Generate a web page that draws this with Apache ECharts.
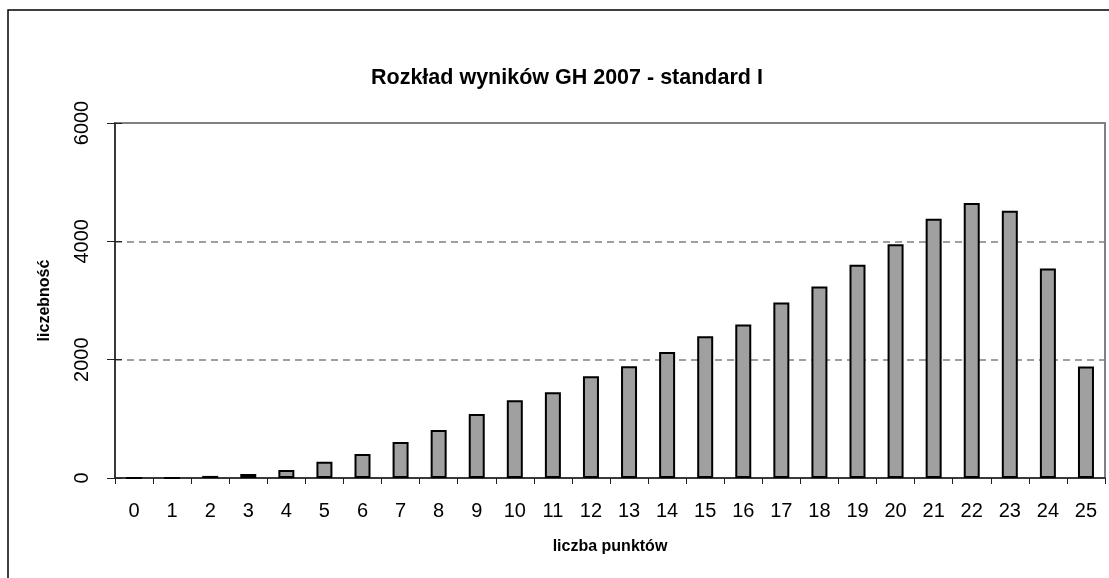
<!DOCTYPE html>
<html>
<head>
<meta charset="utf-8">
<script src="https://cdn.jsdelivr.net/npm/echarts@6/dist/echarts.min.js"></script>
<style>
  html, body { margin: 0; padding: 0; background: #fff; }
  #chart { width: 1109px; height: 578px; }
</style>
</head>
<body>
<div id="chart"></div>
<script>
// liczba punktów 0..25
const punkty = ['0','1','2','3','4','5','6','7','8','9','10','11','12','13','14','15','16','17','18','19','20','21','22','23','24','25'];
// liczebność
const liczebnosc = [0, 2, 35, 68, 135, 275, 405, 608, 810, 1080, 1315, 1450, 1720, 1890, 2130, 2395, 2595, 2965, 3235, 3605, 3950, 4380, 4650, 4515, 3540, 1885];
const yTicks = [0, 2000, 4000, 6000];

const font = "'Liberation Sans', Arial, sans-serif";
const chart = echarts.init(document.getElementById('chart'));

const option = {
  animation: false,
  backgroundColor: '#fff',
  title: {
    text: 'Rozkład wyników GH 2007 - standard I',
    left: 366,
    top: 62,
    textStyle: { fontFamily: font, fontSize: 21.5, fontWeight: 'bold', color: '#000' }
  },
  // ramka wykresu
  graphic: [{
    type: 'rect',
    shape: { x: 8, y: 10, width: 1200, height: 700 },
    style: { fill: 'none', stroke: '#000', lineWidth: 1.5 },
    silent: true
  }],
  grid: {
    left: 115, right: 4, top: 123, bottom: 100,
    show: true, borderColor: '#808080', borderWidth: 2, backgroundColor: 'transparent'
  },
  xAxis: {
    type: 'category',
    data: punkty,
    name: 'liczba punktów',
    nameLocation: 'middle',
    nameGap: 61,
    nameTextStyle: { fontFamily: font, fontSize: 16, fontWeight: 'bold', color: '#000' },
    axisLine: { lineStyle: { color: '#222', width: 1.5 } },
    axisTick: { show: true, length: 6, lineStyle: { color: '#222', width: 1 } },
    axisLabel: { fontFamily: font, fontSize: 20, color: '#000', margin: 23, interval: 0 }
  },
  yAxis: [{
    type: 'value',
    min: yTicks[0], max: yTicks[yTicks.length - 1], interval: 2000,
    name: 'liczebność',
    nameLocation: 'middle',
    nameGap: 62,
    nameTextStyle: { fontFamily: font, fontSize: 16, fontWeight: 'bold', color: '#000' },
    axisLine: { show: true, lineStyle: { color: '#222', width: 1.5 } },
    axisTick: { show: true, length: 8, lineStyle: { color: '#222', width: 1 } },
    axisLabel: { fontFamily: font, fontSize: 20, color: '#000', rotate: 90, margin: 23, formatter: v => String(v) },
    splitLine: { show: true, lineStyle: { color: '#808080', width: 1.5, type: [7, 5] } }
  }, {
    // kreski wewnętrzne osi Y
    type: 'value',
    position: 'left',
    min: yTicks[0], max: yTicks[yTicks.length - 1], interval: 2000,
    axisLine: { show: false },
    axisTick: { show: true, inside: true, length: 7, lineStyle: { color: '#222', width: 1 } },
    axisLabel: { show: false },
    splitLine: { show: false }
  }],
  series: [{
    type: 'bar',
    data: liczebnosc,
    barWidth: '42%',
    itemStyle: { color: '#a0a0a0', borderColor: '#000', borderWidth: 2 }
  }]
};

chart.setOption(option);
</script>
</body>
</html>
